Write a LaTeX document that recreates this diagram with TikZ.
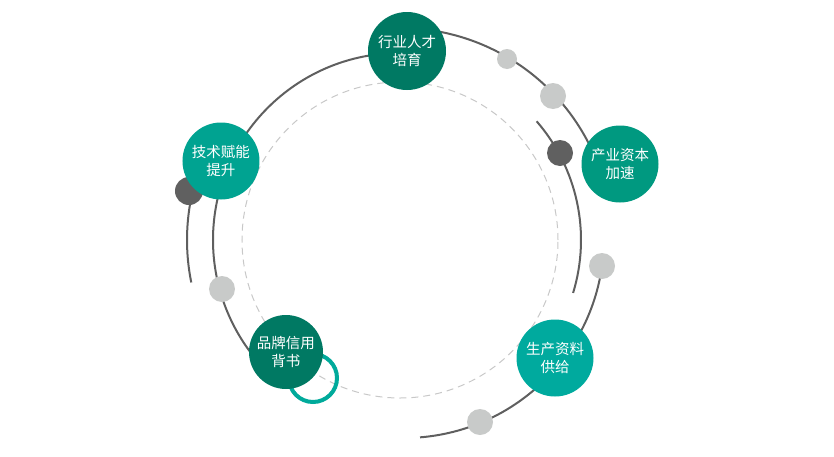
\documentclass[tikz,border=0pt]{standalone}
\usepackage{fontspec}
\usepackage{xcolor}
\setmainfont{Noto Sans CJK SC}
\definecolor{deepgreen}{RGB}{0,121,99}
\definecolor{techteal}{RGB}{0,163,145}
\definecolor{capteal}{RGB}{0,153,128}
\definecolor{supteal}{RGB}{0,170,158}
\definecolor{ringteal}{RGB}{0,170,155}
\definecolor{arcgray}{RGB}{95,95,95}
\definecolor{dotlight}{RGB}{200,202,201}
\definecolor{dotdark}{RGB}{96,96,96}
\definecolor{dashgray}{RGB}{200,200,200}

\begin{document}
\begin{tikzpicture}[x=1pt,y=1pt,
    arcline/.style={line width=2pt, draw=arcgray},
    topic/.style={circle, minimum size=77pt, inner sep=0pt, text=white, align=center,
                  font=\fontsize{14.5}{18}\selectfont},
    lightdot/.style={circle, fill=dotlight, inner sep=0pt, minimum size=26pt},
    darkdot/.style={circle, fill=dotdark, inner sep=0pt, minimum size=26pt}]
        \useasboundingbox (-400,-216) rectangle (434,240);
        % Draw the dashed inner circle
        \draw[dashgray, line width=1pt, dash pattern=on 7pt off 5pt] (0,0) circle(158);
        % Draw the grey arcs
        \draw[arcline] (90:187) arc (90:220:187);
        \draw[arcline] (88:212) arc (88:22:212);
        \draw[arcline] (167:213) arc (167:191.5:213);
        \draw[arcline] (41:181) arc (41:-17:181);
        \draw[arcline] (4,2) ++(-8:200) arc (-8:-85.4:200);
        % Draw the teal ring behind the brand node
        \draw[ringteal, line width=4pt] (-87,-138) circle(24);
        % Draw the small dots
        \node[lightdot, minimum size=20pt] (dotA) at (107,181) {};
        \node[lightdot] (dotB) at (153,144) {};
        \node[darkdot] (dotC) at (160,87) {};
        \node[lightdot] (dotD) at (202,-26) {};
        \node[lightdot] (dotE) at (80,-182) {};
        \node[lightdot] (dotF) at (-178,-49) {};
        \node[darkdot, minimum size=28pt] (dotG) at (-211,49) {};
        % Draw the five topics
        \node[topic, fill=deepgreen, minimum size=78pt] (talent) at (7,189) {行业人才\\培育};
        \node[topic, fill=capteal] (capital) at (220,76) {产业资本\\加速};
        \node[topic, fill=supteal] (supply) at (155,-118) {生产资料\\供给};
        \node[topic, fill=deepgreen, minimum size=74pt] (brand) at (-114,-112) {品牌信用\\背书};
        \node[topic, fill=techteal] (tech) at (-179,79) {技术赋能\\提升};
    \end{tikzpicture}
\end{document}
